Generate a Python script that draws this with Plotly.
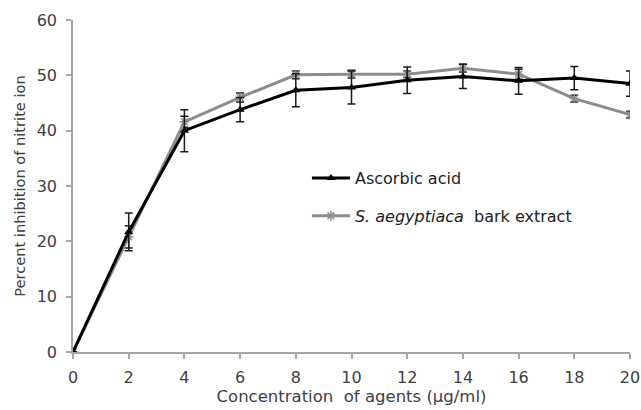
import plotly.graph_objects as go

concentration = [0, 2, 4, 6, 8, 10, 12, 14, 16, 18, 20]
tick_labels = ["0", "2", "4", "6", "8", "10", "12", "14", "16", "18", "20"]

ascorbic = [0, 21.7, 40.0, 43.8, 47.3, 47.8, 49.1, 49.8, 49.0, 49.5, 48.5]
ascorbic_err = [0, 3.4, 3.8, 2.2, 3.0, 3.0, 2.4, 2.2, 2.4, 2.1, 2.3]

saeg = [0, 20.8, 41.6, 46.0, 50.1, 50.2, 50.2, 51.3, 50.2, 45.8, 42.9]
saeg_err = [0, 2.0, 1.0, 0.8, 0.7, 0.7, 0.6, 0.7, 0.9, 0.6, 0.6]

FONT = "DejaVu Sans"
AX = "#a6a6a6"
TXT = "#404040"

fig = go.Figure()

fig.add_trace(go.Scatter(
    x=concentration, y=saeg,
    mode="lines+markers",
    name="<i>S. aegyptiaca</i>  bark extract",
    legendgroup="b", legendrank=2,
    line=dict(color="#8c8c8c", width=3),
    marker=dict(symbol="asterisk-open", size=8, color="#8c8c8c",
                line=dict(color="#8c8c8c", width=1.5)),
    error_y=dict(type="data", array=saeg_err, visible=True,
                 color="#1a1a1a", thickness=1.5, width=4),
))

fig.add_trace(go.Scatter(
    x=concentration, y=ascorbic,
    mode="lines+markers",
    name="Ascorbic acid",
    legendgroup="a", legendrank=1,
    line=dict(color="#000000", width=3),
    marker=dict(symbol="triangle-up", size=8, color="#000000"),
    error_y=dict(type="data", array=ascorbic_err, visible=True,
                 color="#1a1a1a", thickness=1.5, width=4),
))

fig.update_layout(
    width=641, height=410,
    margin=dict(l=73, r=11, t=20, b=58, autoexpand=False),
    paper_bgcolor="white", plot_bgcolor="white",
    font=dict(family=FONT, size=15, color=TXT),
    showlegend=True,
    legend=dict(
        x=0.42, y=0.575, xanchor="left", yanchor="top",
        bgcolor="rgba(0,0,0,0)",
        font=dict(family=FONT, size=16, color="#222222"),
        tracegroupgap=14, itemwidth=38,
    ),
    xaxis=dict(
        range=[0, 20], automargin=False,
        tickmode="array", tickvals=concentration, ticktext=tick_labels,
        showline=True, linecolor=AX, linewidth=1.5,
        ticks="outside", ticklen=5, tickcolor=AX, tickwidth=1.5,
        showgrid=False, zeroline=False,
        tickfont=dict(family=FONT, size=16, color=TXT),
        ticklabelstandoff=5,
        title=dict(text="Concentration  of agents (μg/ml)",
                   font=dict(family=FONT, size=16.5, color=TXT), standoff=0),
    ),
    yaxis=dict(
        range=[0, 60], automargin=False,
        tickmode="array", tickvals=[0, 10, 20, 30, 40, 50, 60],
        showline=True, linecolor=AX, linewidth=1.5,
        ticks="outside", ticklen=5, tickcolor=AX, tickwidth=1.5,
        showgrid=False, zeroline=False,
        tickfont=dict(family=FONT, size=16, color=TXT),
        ticklabelstandoff=6,
        title=dict(text="Percent inhibition of nitrite ion",
                   font=dict(family=FONT, size=14.6, color=TXT), standoff=8),
    ),
)

fig.write_html(
    "out.html",
    config={"displayModeBar": False},
    post_script="document.body.style.margin='0';document.body.style.overflow='hidden';",
)
